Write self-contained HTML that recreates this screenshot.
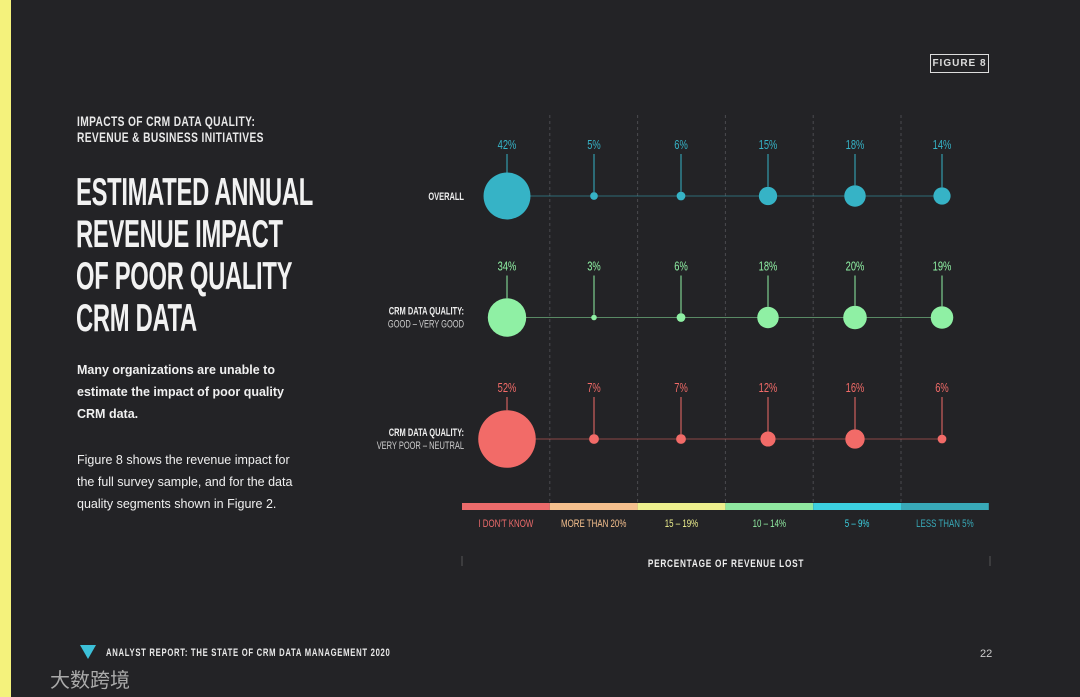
<!DOCTYPE html>
<html><head><meta charset="utf-8">
<style>
body{margin:0;width:1080px;height:697px;background:#232326;overflow:hidden;position:relative;font-family:"Liberation Sans","Noto Sans CJK SC",sans-serif;}
.strip{position:absolute;left:0;top:0;width:11px;height:697px;background:#f4f27c;}
.cond{position:absolute;transform-origin:0 0;white-space:nowrap;font-weight:bold;}
.p{position:absolute;color:#f0f0f0;font-size:12.5px;line-height:22px;}
</style></head><body>
<div class="strip"></div>
<div class="cond" style="left:77px;top:113px;color:#e8e8e8;font-size:14px;line-height:16px;transform:scaleX(0.73);letter-spacing:0.5px;">IMPACTS OF CRM DATA QUALITY:<br>REVENUE &amp; BUSINESS INITIATIVES</div>
<div class="cond" style="left:76px;top:172px;color:#f2f2f2;font-size:39px;line-height:42px;transform:scaleX(0.61);letter-spacing:-0.5px;">ESTIMATED ANNUAL<br>REVENUE IMPACT<br>OF POOR QUALITY<br>CRM DATA</div>
<div class="p" style="left:77px;top:359px;font-weight:bold;">Many organizations are unable to<br>estimate the impact of poor quality<br>CRM data.</div>
<div class="p" style="left:77px;top:449px;">Figure 8 shows the revenue impact for<br>the full survey sample, and for the data<br>quality segments shown in Figure 2.</div>
<div style="position:absolute;left:930px;top:54px;width:57px;height:17px;border:1.5px solid #ddd;color:#ddd;font-size:10px;font-weight:bold;text-align:center;line-height:17px;letter-spacing:1px;">FIGURE 8</div>
<div style="position:absolute;left:80px;top:645px;width:0;height:0;border-left:8px solid transparent;border-right:8px solid transparent;border-top:14px solid #3cc0d8;"></div>
<div class="cond" style="left:106px;top:647px;color:#e8e8e8;font-size:11px;transform:scaleX(0.7);letter-spacing:1px;">ANALYST REPORT: THE STATE OF CRM DATA MANAGEMENT 2020</div>
<div style="position:absolute;left:50px;top:664px;color:#aaa;font-size:20px;">大数跨境</div>
<div style="position:absolute;left:980px;top:648px;color:#ccc;font-size:11px;">22</div>
<svg id="chart" width="1080" height="697" style="position:absolute;left:0;top:0;"></svg>
<script>
const categories=["I DON'T KNOW","MORE THAN 20%","15 – 19%","10 – 14%","5 – 9%","LESS THAN 5%"];
const catColors=["#ec6b6b","#f5c08e","#eef08e","#8fe8a0","#3cd0e0","#38a9b8"];
const rowNames=[["OVERALL",""],["CRM DATA QUALITY:","GOOD – VERY GOOD"],["CRM DATA QUALITY:","VERY POOR – NEUTRAL"]];
const rowColors=["#36b3c6","#8ff0a4","#f26b68"];
const overall=[42,5,6,15,18,14];
const good=[34,3,6,18,20,19];
const poor=[52,7,7,12,16,6];
const series=[overall,good,poor];
const NS="http://www.w3.org/2000/svg";
const svg=document.getElementById('chart');
const x0=462,bw=87.8;
const xPos=i=>507+87*i;
const rowY=r=>196+r*121.5;
const rad=v=>1.2+v*0.53;
function mk(t,a){const e=document.createElementNS(NS,t);for(const k in a)e.setAttribute(k,a[k]);svg.appendChild(e);return e;}
for(let i=1;i<6;i++){
 const l=mk('line',{x1:x0+bw*i,x2:x0+bw*i,y1:115,y2:505,stroke:'#4a4a4e','stroke-dasharray':'3,3','stroke-width':1});
 
 
}
series.forEach((vals,r)=>{
 const y=rowY(r),c=rowColors[r];
 const hl=mk('line',{x1:xPos(0),x2:xPos(5),y1:y,y2:y,stroke:c,'stroke-width':1,opacity:0.5});
 
 
 const n1=mk('text',{x:464,y:y+(rowNames[r][1]?-3:4),'text-anchor':'end',fill:'#eee','font-size':11,'font-weight':'bold',transform:`translate(464,0) scale(0.68,1) translate(-464,0)`});
 n1.textContent=rowNames[r][0];
 
 
 if(rowNames[r][1]){
  const n2=mk('text',{x:464,y:y+10,'text-anchor':'end',fill:'#ccc','font-size':11,transform:`translate(464,0) scale(0.68,1) translate(-464,0)`});
  n2.textContent=rowNames[r][1];
  
  
 }
 vals.forEach((v,i)=>{
  const x=xPos(i),rr=rad(v);
  const st=mk('line',{x1:x,x2:x,y1:y-42,y2:y-rr,stroke:c,'stroke-width':1});
  
  
  const ci=mk('circle',{cx:x,cy:y,r:rr,fill:c});
  
  
  const t=mk('text',{x:x,y:y-47,'text-anchor':'middle',fill:c,'font-size':13,transform:`translate(${x},0) scale(0.72,1) translate(${-x},0)`});
  t.textContent=v+'%';
  
  
 });
});
categories.forEach((c,i)=>{
 const b=mk('rect',{x:x0+bw*i,y:503,width:bw,height:7,fill:catColors[i]});
 
 
 const x=x0+bw*(i+0.5);
 const t=mk('text',{x:x,y:527,'text-anchor':'middle',fill:catColors[i],'font-size':11,transform:`translate(${x},0) scale(0.72,1) translate(${-x},0)`});
 t.textContent=c;
 
 
});
[462,990].forEach(x=>{const l=mk('line',{x1:x,x2:x,y1:556,y2:566,stroke:'#555'});
 
 });
const at=mk('text',{x:726,y:567,'text-anchor':'middle',fill:'#eee','font-size':11,'font-weight':'bold','letter-spacing':1,transform:`translate(726,0) scale(0.75,1) translate(-726,0)`});
at.textContent='PERCENTAGE OF REVENUE LOST';


</script>
</body></html>
